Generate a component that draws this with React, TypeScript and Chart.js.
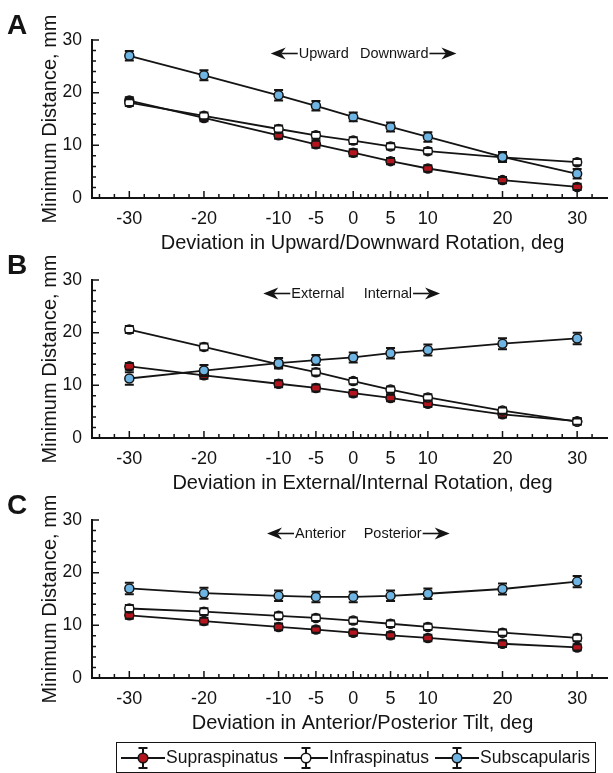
import React, { useEffect, useRef } from 'react';
import { Chart, registerables } from 'chart.js';

Chart.register(...registerables);

const FONT = '"Liberation Sans", Arial, Helvetica, sans-serif';
const INK = '#141414';

// ---------- data ----------
const deviations = [-30, -20, -10, -5, 0, 5, 10, 20, 30];
const xTickLabels = [-30, -20, -10, -5, 0, 5, 10, 20, 30];
const xMinorTicks = [-34, -32, -28, -26, -24, -22, -18, -16, -14, -12, -9, -8, -7, -6, -4, -3, -2, -1, 1, 2, 3, 4, 6, 7, 8, 9, 12, 14, 16, 18, 22, 24, 26, 28, 32];
const yTickLabels = [0, 10, 20, 30];
const yMinorTicks = [2, 4, 6, 8, 12, 14, 16, 18, 22, 24, 26, 28];

const seriesNames = ['Supraspinatus', 'Infraspinatus', 'Subscapularis'];
const seriesColors = ['#b3141e', '#ffffff', '#6fb5e4'];

// Panel A: upward / downward rotation
const supraA = [18.5, 15.2, 11.9, 10.2, 8.6, 7.0, 5.6, 3.4, 2.1];
const infraA = [18.1, 15.6, 13.1, 11.9, 10.9, 9.8, 8.9, 7.7, 6.8];
const subA = [27.0, 23.3, 19.5, 17.5, 15.4, 13.5, 11.6, 7.8, 4.6];
const supraErrA = [0.65, 0.65, 0.65, 0.65, 0.65, 0.6, 0.6, 0.6, 0.6];
const infraErrA = [0.65, 0.65, 0.65, 0.65, 0.65, 0.6, 0.6, 0.6, 0.6];
const subErrA = [0.9, 0.95, 1.0, 0.9, 0.85, 0.85, 0.9, 0.95, 0.9];

// Panel B: external / internal rotation
const supraB = [13.6, 11.9, 10.3, 9.5, 8.5, 7.6, 6.5, 4.5, 3.2];
const infraB = [20.6, 17.3, 14.0, 12.5, 10.8, 9.2, 7.7, 5.2, 3.1];
const subB = [11.3, 12.8, 14.2, 14.8, 15.3, 16.1, 16.7, 17.9, 18.9];
const supraErrB = [0.65, 0.65, 0.65, 0.65, 0.6, 0.6, 0.6, 0.6, 0.6];
const infraErrB = [0.65, 0.65, 0.65, 0.65, 0.6, 0.6, 0.6, 0.6, 0.6];
const subErrB = [1.2, 1.05, 1.0, 0.95, 0.95, 1.0, 1.05, 1.05, 1.1];

// Panel C: anterior / posterior tilt
const supraC = [11.9, 10.8, 9.7, 9.2, 8.6, 8.1, 7.6, 6.5, 5.8];
const infraC = [13.2, 12.6, 11.8, 11.4, 10.9, 10.3, 9.7, 8.6, 7.6];
const subC = [17.0, 16.1, 15.6, 15.4, 15.4, 15.6, 16.0, 16.9, 18.3];
const supraErrC = [0.65, 0.65, 0.65, 0.6, 0.6, 0.6, 0.6, 0.6, 0.6];
const infraErrC = [0.65, 0.65, 0.65, 0.6, 0.6, 0.6, 0.6, 0.6, 0.6];
const subErrC = [1.1, 1.05, 1.0, 1.0, 1.0, 1.0, 1.0, 1.05, 1.05];

const yTitle = 'Minimum Distance, mm';

const panels = [
  {
    letter: 'A', xTitle: 'Deviation in Upward/Downward Rotation, deg',
    leftWord: 'Upward', rightWord: 'Downward', leftAt: -7.3, rightAt: 0.9,
    series: [supraA, infraA, subA], errors: [supraErrA, infraErrA, subErrA],
  },
  {
    letter: 'B', xTitle: 'Deviation in External/Internal Rotation, deg',
    leftWord: 'External', rightWord: 'Internal', leftAt: -8.3, rightAt: 1.4,
    series: [supraB, infraB, subB], errors: [supraErrB, infraErrB, subErrB],
  },
  {
    letter: 'C', xTitle: 'Deviation in Anterior/Posterior Tilt, deg',
    leftWord: 'Anterior', rightWord: 'Posterior', leftAt: -7.8, rightAt: 1.4,
    series: [supraC, infraC, subC], errors: [supraErrC, infraErrC, subErrC],
  },
];

const POINT_R = 4.5;

// ---------- drawing helpers ----------
function drawArrow(ctx: CanvasRenderingContext2D, from: number, tip: number, y: number) {
  const dir = Math.sign(tip - from);
  const headLen = 15, half = 6, notch = 4.5;
  ctx.lineWidth = 1.6;
  ctx.beginPath();
  ctx.moveTo(from, y);
  ctx.lineTo(tip - dir * (headLen - notch), y);
  ctx.stroke();
  ctx.beginPath();
  ctx.moveTo(tip, y);
  ctx.lineTo(tip - dir * headLen, y - half);
  ctx.lineTo(tip - dir * (headLen - notch), y);
  ctx.lineTo(tip - dir * headLen, y + half);
  ctx.closePath();
  ctx.fill();
}

const errorBarPlugin = {
  id: 'errbars',
  afterDatasetDraw(chart: any, args: any) {
    const ds = chart.data.datasets[args.index];
    const errs: number[] | undefined = ds.errors;
    if (!errs) return;
    const y = chart.scales.y;
    const ctx: CanvasRenderingContext2D = chart.ctx;
    ctx.save();
    ctx.strokeStyle = INK;
    ctx.lineWidth = 2;
    const edge = POINT_R + 0.75;
    args.meta.data.forEach((pt: any, i: number) => {
      const v = ds.data[i].y;
      const top = y.getPixelForValue(v + errs[i]);
      const bot = y.getPixelForValue(v - errs[i]);
      const x = pt.x;
      const cy = pt.y;
      ctx.beginPath();
      if (cy - top > edge) { ctx.moveTo(x, cy - edge); ctx.lineTo(x, top); }
      if (bot - cy > edge) { ctx.moveTo(x, cy + edge); ctx.lineTo(x, bot); }
      ctx.moveTo(x - 4.5, top); ctx.lineTo(x + 4.5, top);
      ctx.moveTo(x - 4.5, bot); ctx.lineTo(x + 4.5, bot);
      ctx.stroke();
    });
    ctx.restore();
  },
};

function makeDecor(cfg: any) {
  return {
    id: 'decor' + cfg.letter,
    afterDraw(chart: any) {
      const ctx: CanvasRenderingContext2D = chart.ctx;
      const a = chart.chartArea;
      const x = chart.scales.x;
      const y = chart.scales.y;
      ctx.save();
      ctx.strokeStyle = INK;
      ctx.fillStyle = INK;
      ctx.lineWidth = 1.5;
      ctx.beginPath();
      xMinorTicks.forEach((v) => { const px = x.getPixelForValue(v); ctx.moveTo(px, a.bottom); ctx.lineTo(px, a.bottom - 4); });
      xTickLabels.forEach((v) => { const px = x.getPixelForValue(v); ctx.moveTo(px, a.bottom); ctx.lineTo(px, a.bottom - 7); });
      yMinorTicks.forEach((v) => { const py = y.getPixelForValue(v); ctx.moveTo(a.left, py); ctx.lineTo(a.left + 4, py); });
      yTickLabels.forEach((v) => { const py = y.getPixelForValue(v); ctx.moveTo(a.left, py); ctx.lineTo(a.left + 7, py); });
      ctx.stroke();

      // panel letter
      ctx.font = `bold 28px ${FONT}`;
      ctx.textAlign = 'left';
      ctx.textBaseline = 'alphabetic';
      ctx.fillText(cfg.letter, 7, 34);

      // x title
      ctx.font = `20px ${FONT}`;
      ctx.textAlign = 'center';
      ctx.fillText(cfg.xTitle, (a.left + a.right) / 2 + 13, 249);

      // y title
      ctx.save();
      ctx.translate(56, (a.top + a.bottom) / 2);
      ctx.rotate(-Math.PI / 2);
      ctx.fillText(yTitle, 0, 0);
      ctx.restore();

      // direction annotation
      ctx.font = `14.5px ${FONT}`;
      ctx.textAlign = 'left';
      ctx.textBaseline = 'middle';
      const ay = a.top + 13.5;
      const ls = x.getPixelForValue(cfg.leftAt);
      ctx.fillText(cfg.leftWord, ls, ay);
      drawArrow(ctx, ls - 1, ls - 28, ay);
      const rs = x.getPixelForValue(cfg.rightAt);
      ctx.fillText(cfg.rightWord, rs, ay);
      const re = rs + ctx.measureText(cfg.rightWord).width;
      drawArrow(ctx, re + 1, re + 28, ay);
      ctx.restore();
    },
  };
}

function Panel({ cfg, top }: { cfg: any; top: number }) {
  const ref = useRef<HTMLCanvasElement>(null);
  useEffect(() => {
    const datasets = cfg.series.map((vals: number[], si: number) => ({
      label: seriesNames[si],
      data: deviations.map((d, i) => ({ x: d, y: vals[i] })),
      errors: cfg.errors[si],
      borderColor: INK,
      borderWidth: 1.8,
      pointRadius: POINT_R,
      pointBorderWidth: 1.5,
      pointBorderColor: INK,
      pointBackgroundColor: seriesColors[si],
      backgroundColor: seriesColors[si],
      tension: 0,
      fill: false,
      order: 3 - si,
    }));
    const chart = new Chart(ref.current as HTMLCanvasElement, {
      type: 'line',
      data: { datasets } as any,
      options: {
        responsive: false,
        animation: false,
        devicePixelRatio: 1,
        layout: { padding: { top: 40, right: 0, left: 0, bottom: 0 } },
        plugins: { legend: { display: false }, tooltip: { enabled: false } },
        scales: {
          x: {
            type: 'linear',
            min: -35,
            max: 34,
            grid: { display: false, drawTicks: false },
            border: { display: true, color: INK, width: 2 },
            afterBuildTicks: (scale: any) => { scale.ticks = xTickLabels.map((v) => ({ value: v })); },
            afterFit: (scale: any) => { scale.height = 62; },
            ticks: {
              autoSkip: false, maxRotation: 0, padding: 10, color: INK,
              font: { family: FONT, size: 18 },
              callback: (v: any) => String(v),
            },
          },
          y: {
            type: 'linear',
            min: 0,
            max: 30,
            grid: { display: false, drawTicks: false },
            border: { display: true, color: INK, width: 2 },
            afterBuildTicks: (scale: any) => { scale.ticks = yTickLabels.map((v) => ({ value: v })); },
            afterFit: (scale: any) => { scale.width = 92; },
            ticks: {
              padding: 10, color: INK,
              font: { family: FONT, size: 17.5 },
              callback: (v: any) => String(v),
            },
          },
        },
      } as any,
      plugins: [errorBarPlugin, makeDecor(cfg)],
    });
    return () => chart.destroy();
  }, [cfg]);
  return (
    <canvas
      ref={ref}
      width={613}
      height={260}
      style={{ position: 'absolute', left: 0, top, width: 613, height: 260 }}
    />
  );
}

function LegendSymbol({ color }: { color: string }) {
  return (
    <svg width={44} height={28} style={{ display: 'block', flex: '0 0 auto' }}>
      <line x1={0} y1={14} x2={44} y2={14} stroke={INK} strokeWidth={1.8} />
      <line x1={22} y1={4} x2={22} y2={24} stroke={INK} strokeWidth={2} />
      <line x1={17.5} y1={4} x2={26.5} y2={4} stroke={INK} strokeWidth={2} />
      <line x1={17.5} y1={24} x2={26.5} y2={24} stroke={INK} strokeWidth={2} />
      <circle cx={22} cy={14} r={4.8} fill={color} stroke={INK} strokeWidth={1.5} />
    </svg>
  );
}

export default function App() {
  return (
    <div style={{ position: 'absolute', left: 0, top: 0, width: 613, height: 773, background: '#fff', overflow: 'hidden' }}>
      {panels.map((p, i) => (
        <Panel key={p.letter} cfg={p} top={i * 240} />
      ))}
      <div
        style={{
          position: 'absolute', left: 116, top: 742, width: 480, height: 31,
          boxSizing: 'border-box', border: `1.5px solid ${INK}`,
          display: 'flex', alignItems: 'center', paddingLeft: 4,
          fontFamily: FONT, fontSize: 17.5, color: INK, whiteSpace: 'nowrap',
        }}
      >
        {seriesNames.map((n, i) => (
          <div key={n} style={{ display: 'flex', alignItems: 'center', marginRight: 6 }}>
            <LegendSymbol color={seriesColors[i]} />
            <span style={{ marginLeft: 1 }}>{n}</span>
          </div>
        ))}
      </div>
    </div>
  );
}
